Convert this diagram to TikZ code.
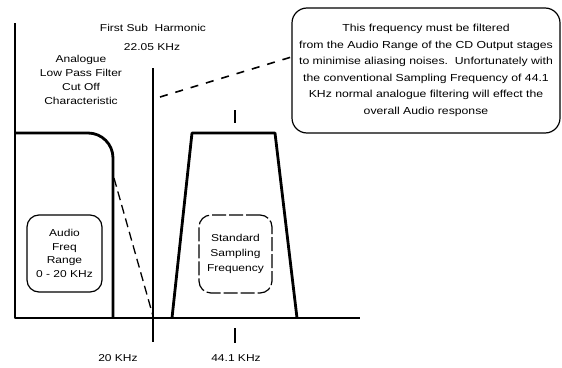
\documentclass[tikz,border=0pt]{standalone}
\usepackage{fontspec}
\setmainfont[FakeStretch=1.2]{Liberation Sans}
\begin{document}
\begin{tikzpicture}[x=1pt,y=-1pt,
  thickline/.style={line width=2.8pt,line join=round},
  thinline/.style={line width=1.3pt},
  lbl/.style={inner sep=0pt,align=center,font=\fontsize{10}{14}\selectfont},
  bubble/.style={draw,line width=1.2pt,rounded corners=12pt,inner sep=0pt,align=center}]
\useasboundingbox (0,0) rectangle (562,367);
% axis and shapes
\coordinate (ltop) at (15,23);
\coordinate (origin) at (15,318);
\coordinate (axend) at (360,318);
\coordinate (boxtl) at (15,133);
\coordinate (boxtr) at (113,133);
\coordinate (boxbr) at (113,318);
\draw[thickline] (ltop) -- (origin) -- (axend);
\draw[thickline,rounded corners=25pt] (boxtl) -- (boxtr) -- (boxbr);
% filter slope
\coordinate (slopeA) at (114,178);
\coordinate (slopeB) at (153,316);
\draw[thinline,dash pattern=on 9pt off 5pt] (slopeA) -- (slopeB);
% first sub harmonic line
\coordinate (harmtop) at (153,68);
\coordinate (harmbot) at (153,342);
\draw[line width=1.1pt] (harmtop) -- (harmbot);
% sampling trapezoid
\coordinate (tbl) at (172,318);
\coordinate (ttl) at (192,133);
\coordinate (ttr) at (275,133);
\coordinate (tbr) at (297,318);
\draw[thickline] (tbl) -- (ttl) -- (ttr) -- (tbr);
% ticks at 44.1
\coordinate (tickA1) at (235,110);
\coordinate (tickA2) at (235,123);
\coordinate (tickB1) at (235,328);
\coordinate (tickB2) at (235,343);
\draw[line width=1.1pt] (tickA1) -- (tickA2);
\draw[line width=1.1pt] (tickB1) -- (tickB2);
% labels
\node[lbl] (harm1) at (153,28) {First Sub\ \ Harmonic};
\node[lbl] (harm2) at (152,47) {22.05 KHz};
\node[lbl] (filt) at (81,80) {Analogue\\Low Pass Filter\\Cut Off\\Characteristic};
\node[lbl] (k20) at (118,358) {20 KHz};
\node[lbl] (k441) at (236,358) {44.1 KHz};
% inner boxes
\node[bubble,minimum width=75pt,minimum height=77pt,font=\fontsize{10}{13.5}\selectfont] (audio) at (64.5,253.5) {Audio\\Freq\\Range\\0 - 20 KHz};
\node[bubble,dashed,dash pattern=on 14pt off 3pt,minimum width=73pt,minimum height=78pt,font=\fontsize{10}{15}\selectfont] (std) at (235.5,254) {Standard\\Sampling\\Frequency};
% callout
\node[bubble,minimum width=268pt,minimum height=125pt,rounded corners=15pt,font=\fontsize{10.2}{16.5}\selectfont] (callout) at (426,70.5) {This frequency must be filtered\\from the Audio Range of the CD Output stages\\to minimise aliasing noises.\ \ Unfortunately with\\the conventional Sampling Frequency of 44.1\\KHz normal analogue filtering will effect the\\overall Audio response};
\coordinate (ptr) at (160,97);
\draw[line width=1.6pt,dash pattern=on 8pt off 8pt] (ptr) -- (callout.west |- 0,57);
\end{tikzpicture}
\end{document}
